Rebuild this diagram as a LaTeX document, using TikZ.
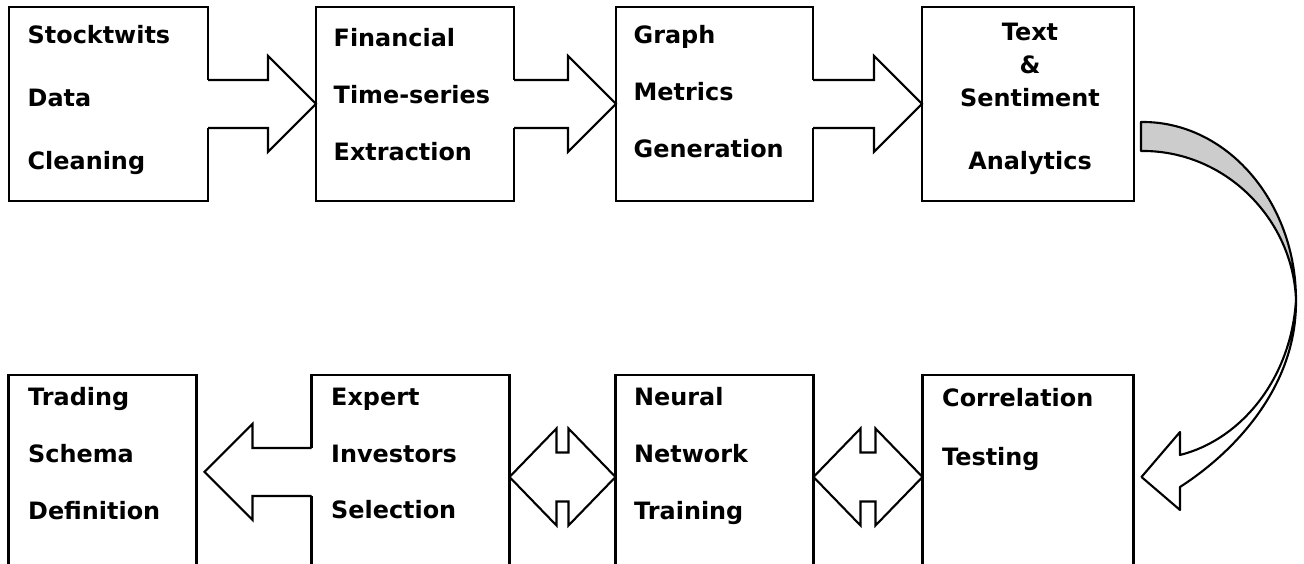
\documentclass[tikz,border=0pt]{standalone}
\usepackage{fontspec}
\setmainfont{DejaVu Sans}
\usetikzlibrary{positioning,calc}

\tikzset{
  stage/.style={draw, line width=0.8pt, minimum width=#1, minimum height=1.94cm, inner sep=0pt, outer sep=0pt},
  lbl/.style={font=\fontsize{6.8}{16.2}\selectfont\bfseries, align=left, anchor=north west, inner sep=0pt},
  blk/.style={draw, fill=white, line width=0.6pt, line join=miter},
}

% block arrow from the right side of #1 to the left side of #2
\newcommand{\fwdarrow}[2]{%
  \fill[white] ($(#1.east)+(-0.03,0.24)$) rectangle ($(#1.east)+(0.01,-0.24)$);
  \draw[blk] ($(#1.east)+(0,0.24)$) -- ($(#1.east -| #2.west)+(-0.48,0.24)$)
    -- ++(0,0.24) -- (#1.east -| #2.west) -- ($(#1.east -| #2.west)+(-0.48,-0.48)$)
    -- ++(0,0.24) -- ($(#1.east)+(0,-0.24)$);}

% double block arrow between #1 and #2
\newcommand{\biarrow}[2]{%
  \coordinate (bl) at ($(#1.east)+(0,-0.05)$);
  \coordinate (br) at (bl -| #2.west);
  \draw[blk] (bl) -- ++(0.47,0.485) -- ++(0,-0.24) -- ($(br)+(-0.47,0.245)$)
    -- ++(0,0.24) -- (br) -- ++(-0.47,-0.485) -- ++(0,0.24)
    -- ($(bl)+(0.47,-0.245)$) -- ++(0,-0.24) -- cycle;}

\begin{document}
\begin{tikzpicture}
\useasboundingbox (0,0) rectangle (13.04,5.64);
\clip (0,0) rectangle (13.04,5.64);

% top row
\node[stage=1.99cm] (s1) at (1.085,4.60) {};
\node[stage=1.98cm, right=1.08cm of s1] (s2) {};
\node[stage=1.97cm, right=1.02cm of s2] (s3) {};
\node[stage=2.12cm, right=1.09cm of s3] (s4) {};
% bottom row
\node[stage=2.11cm, below=1.74cm of s4] (s8) {};
\node[stage=1.98cm, left=1.09cm of s8] (s7) {};
\node[stage=1.98cm, left=1.06cm of s7] (s6) {};
\node[stage=1.88cm, left=1.15cm of s6] (s5) {};

% texts
\node[lbl, font=\fontsize{6.8}{17.9}\selectfont\bfseries] (t1) at ($(s1.north west)+(0.18,-0.18)$)
  {Stocktwits\\Data\\Cleaning};
\node[lbl] (t2) at ($(s2.north west)+(0.17,-0.21)$) {Financial\\Time-series\\Extraction};
\node[lbl] (t3) at ($(s3.north west)+(0.17,-0.175)$) {Graph\\Metrics\\Generation};
\node[lbl, align=center, anchor=north, font=\fontsize{6.8}{9.4}\selectfont\bfseries] (t4)
  at ($(s4.north)+(0.02,-0.155)$) {Text\\\&\\Sentiment\\[8.5pt]Analytics};
\node[lbl] (t5) at ($(s5.north west)+(0.19,-0.12)$) {Trading\\Schema\\Definition};
\node[lbl] (t6) at ($(s6.north west)+(0.19,-0.12)$) {Expert\\Investors\\Selection};
\node[lbl] (t7) at ($(s7.north west)+(0.18,-0.12)$) {Neural\\Network\\Training};
\node[lbl] (t8) at ($(s8.north west)+(0.19,-0.13)$) {Correlation\\[0.6pt]Testing};

% arrows
\fwdarrow{s1}{s2}
\fwdarrow{s2}{s3}
\fwdarrow{s3}{s4}
\fill[white] ($(s6.west)+(-0.01,0.24)$) rectangle ($(s6.west)+(0.03,-0.24)$);
\draw[blk] ($(s6.west)+(0,0.24)$) -- ($(s6.west -| s5.east)+(0.56,0.24)$)
  -- ++(0,0.24) -- ($(s6.west -| s5.east)+(0.08,0)$) -- ($(s6.west -| s5.east)+(0.56,-0.48)$)
  -- ++(0,0.24) -- ($(s6.west)+(0,-0.24)$);
\biarrow{s6}{s7}
\biarrow{s7}{s8}

% curved arrow from s4 down to s8
\coordinate (ca) at ($(s4.east)+(0.07,-0.18)$);
\coordinate (cb) at ($(s4.east)+(0.07,-0.47)$);
\coordinate (cm) at (12.96,2.64);
\coordinate (ctip) at ($(s8.east)+(0.08,-0.05)$);
\draw[line width=0.6pt, line join=round, fill=gray!40] (ca) .. controls (12.27,4.43) and (12.96,3.62) .. (cm)
  .. controls (12.93,3.45) and (12.25,4.14) .. (cb) -- cycle;
\draw[blk, line join=round] (cm) .. controls (12.97,1.74) and (12.30,1.09) .. (11.80,0.77)
  -- (11.80,0.54) -- (ctip) -- (11.80,1.32) -- (11.80,1.09)
  .. controls (12.40,1.24) and (12.91,1.84) .. (cm) -- cycle;
\end{tikzpicture}
\end{document}
